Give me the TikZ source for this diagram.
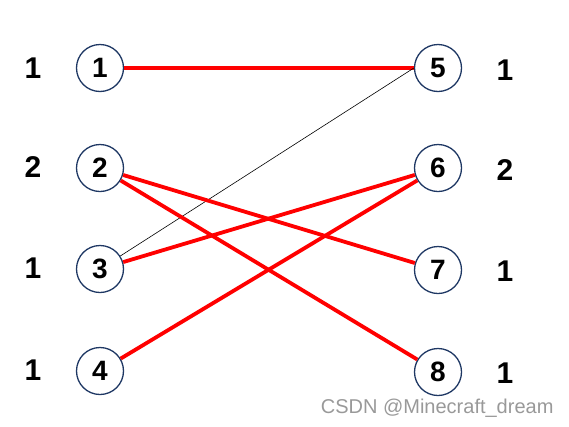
\documentclass[tikz,border=0pt]{standalone}
\usepackage{fontspec}
\setmainfont{Liberation Sans}
\begin{document}
\begin{tikzpicture}[x=1pt,y=-1pt,
  vert/.style={circle,draw=navy,line width=1.3pt,minimum size=47pt,inner sep=0pt,font=\fontsize{28}{28}\selectfont\bfseries},
  lab/.style={font=\fontsize{30}{30}\selectfont\bfseries},
  redline/.style={draw=red,line width=3.8pt},
  thinline/.style={draw=black,line width=0.6pt}]
\definecolor{navy}{HTML}{1F3864}
\useasboundingbox (0,0) rectangle (569,426);
\node[vert] (n1) at (100,68) {1};
\node[vert] (n2) at (100,168) {2};
\node[vert] (n3) at (100,269) {3};
\node[vert] (n4) at (100,371) {4};
\node[vert] (n5) at (438,68) {5};
\node[vert] (n6) at (438,168) {6};
\node[vert] (n7) at (438,270) {7};
\node[vert] (n8) at (438,372) {8};
\node[lab] (l1) at (33,68) {1};
\node[lab] (l2) at (33,167) {2};
\node[lab] (l3) at (33,268) {1};
\node[lab] (l4) at (33,370) {1};
\node[lab] (r5) at (505,70) {1};
\node[lab] (r6) at (505,170) {2};
\node[lab] (r7) at (505,271) {1};
\node[lab] (r8) at (505,373) {1};
\draw[redline] (n1) -- (n5);
\draw[thinline] (n3) -- (n5.west);
\draw[redline] (n2) -- (n7);
\draw[redline] (n2) -- (n8);
\draw[redline] (n3) -- (n6);
\draw[redline] (n4) -- (n6);
\node[font=\fontsize{20}{20}\selectfont,text=black!40,anchor=east] (wm) at (557,408) {CSDN @Minecraft\_dream};
\end{tikzpicture}
\end{document}
